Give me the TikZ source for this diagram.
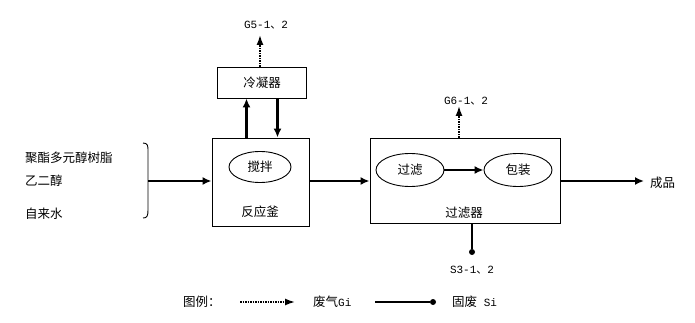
\documentclass[tikz,border=0pt]{standalone}
\usepackage{fontspec}
\setmainfont{Liberation Mono}
\newfontfamily\cjk{Noto Sans CJK SC}
\usetikzlibrary{arrows.meta,shapes.geometric}
\begin{document}
\begin{tikzpicture}[x=1pt,y=-1pt,
  font=\fontsize{11}{13}\selectfont,
  box/.style={draw,line width=0.9pt,inner sep=0pt},
  oval/.style={draw,ellipse,line width=0.9pt,inner sep=0pt,font=\cjk\fontsize{12.5}{14}\selectfont},
  lbl/.style={inner sep=0pt,font=\cjk\fontsize{12.5}{14}\selectfont},
  tag/.style={inner sep=0pt,font=\fontsize{11}{13}\selectfont},
  main/.style={line width=2.6pt,-{Latex[length=9pt,width=8pt]}},
  gas/.style={line width=1.5pt,densely dotted,-{Latex[length=10pt,width=7pt]}},
  solid/.style={line width=2.6pt},
  dotend/.style={circle,fill,inner sep=0pt,minimum size=6pt}]
\useasboundingbox (0,0) rectangle (695,323);
% boxes
\node[box,minimum width=89pt,minimum height=31pt] (cond) at (262,82.5) {};
\node[lbl] at (262,83) {冷凝器};
\node[box,minimum width=97pt,minimum height=88pt] (reac) at (260.5,182) {};
\node[oval,minimum width=62pt,minimum height=31pt] (stir) at (260,167) {搅拌};
\node[lbl] (reaclbl) at (260,212) {反应釜};
\node[box,minimum width=190pt,minimum height=85pt] (filt) at (465,180.5) {};
\node[oval,minimum width=68pt,minimum height=33pt] (flt) at (410,170) {过滤};
\node[oval,minimum width=68pt,minimum height=33pt] (pack) at (518,170) {包装};
\node[lbl] (filtlbl) at (464,213) {过滤器};
% inputs
\node[lbl,anchor=west] (in1) at (25,158) {聚酯多元醇树脂};
\node[lbl,anchor=west] (in2) at (25,181) {乙二醇};
\node[lbl,anchor=west] (in3) at (25,214) {自来水};
\draw[line width=0.9pt] (143,143) .. controls (148,143) and (148,146) .. (148,151)
  -- (148,210) .. controls (148,216) and (147,218) .. (143,218);
\coordinate (brace) at (148,181);
\draw[main] (brace) -- (reac.west |- brace);
\draw[main] (reac.east |- brace) -- (filt.west |- brace);
\node[lbl,anchor=west] (prod) at (650,183) {成品};
\coordinate (prode) at (644,181);
\draw[main] (filt.east |- brace) -- (prode);
% condenser links
\draw[main] ([xshift=-14pt]reac.north) -- ([xshift=-14pt]reac.north |- cond.south);
\draw[main] ([xshift=17pt]reac.north |- cond.south) -- ([xshift=17pt]reac.north);
% gas
\node[tag] (g5) at (266,25) {G5-1{\cjk 、}2};
\coordinate (g5e) at (260,35);
\draw[gas] (cond.north -| g5e) -- (g5e);
\node[tag] (g6) at (466,101) {G6-1{\cjk 、}2};
\coordinate (g6e) at (459,106);
\draw[gas] (filt.north -| g6e) -- (g6e);
\draw[main] (flt) -- (pack);
% solid waste
\node[dotend] (s3d) at (472,252) {};
\draw[solid] (filt.south -| s3d) -- (s3d);
\node[tag] (s3) at (472,270) {S3-1{\cjk 、}2};
% legend
\node[lbl,anchor=west] (leg) at (183,302) {图例：};
\coordinate (la) at (240,302);
\coordinate (lb) at (295,302);
\draw[gas] (la) -- (lb);
\node[inner sep=0pt,anchor=west] (lg) at (313,302) {{\cjk\fontsize{12.5}{14}\selectfont 废气}Gi};
\node[dotend] (ld) at (433,302) {};
\coordinate (lc) at (375,302);
\draw[solid] (lc) -- (ld);
\node[inner sep=0pt,anchor=west] (ls) at (452,302) {{\cjk\fontsize{12.5}{14}\selectfont 固废} Si};
\end{tikzpicture}
\end{document}
